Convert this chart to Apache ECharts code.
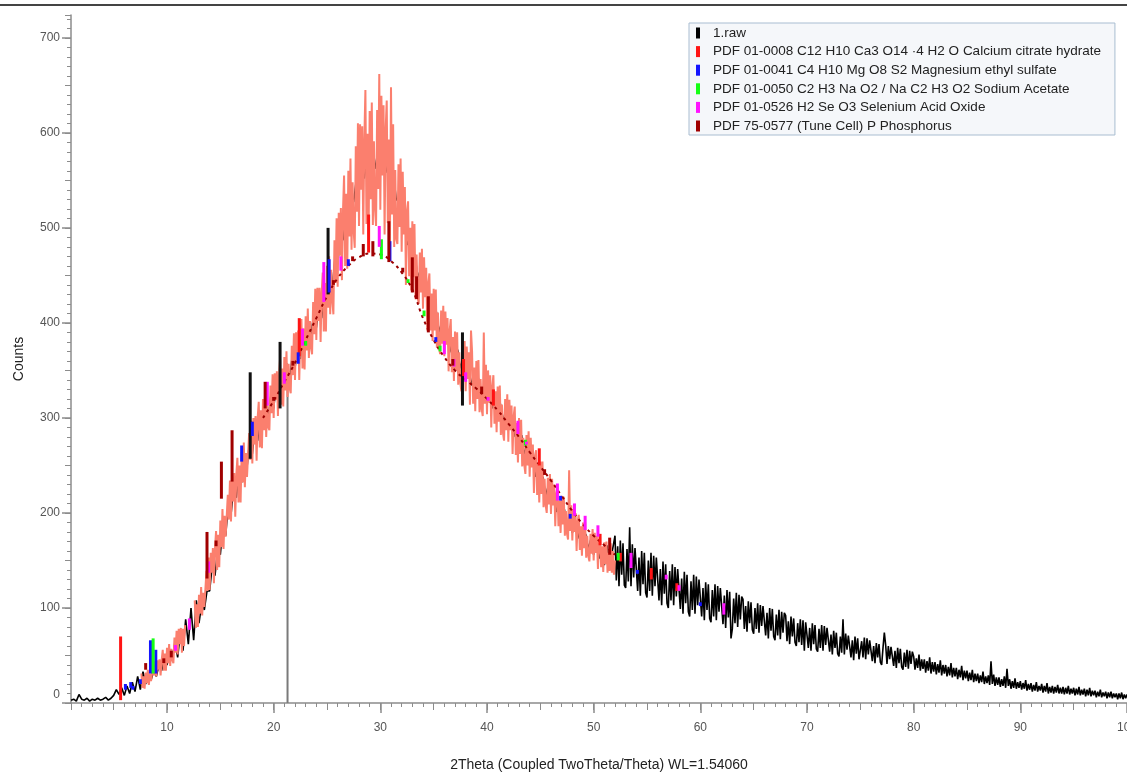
<!DOCTYPE html>
<html>
<head>
<meta charset="utf-8">
<script src="https://cdn.jsdelivr.net/npm/echarts@6/dist/echarts.min.js"></script>
<style>
  body { margin: 0; background: #fff; }
  #main { width: 1127px; height: 772px; }
</style>
</head>
<body>
<div id="main"></div>
<script>
// scan 1.raw, first part : 2theta from 1.0, step 0.25
var rawHeadStart = 1.0, rawHeadStep = 0.25;
var rawHead = [
  3, 4, 2, 9, 4, 3, 5, 2, 4, 3, 5, 3, 4, 6, 3, 5, 8, 14, 9, 16,
  8, 18, 10, 22, 12, 28, 14, 33, 20, 30, 24, 34, 28, 40, 34, 48, 40, 55, 48, 64,
  48, 74, 55, 88, 62, 100, 66, 108, 84, 104, 98, 118, 118, 146, 134, 162, 156, 188, 176, 210,
  198, 228, 216, 244, 232, 262, 248, 276, 262, 290, 276, 302, 288, 314, 300, 325, 310, 336, 322, 347,
  332, 357, 341, 366, 352, 377, 362, 388, 373, 399, 385, 410, 395, 420, 405, 432, 420, 448, 438, 468,
  462, 490, 487, 515, 510, 535, 527, 551, 542, 563, 552, 571, 558, 576, 562, 579, 564, 577, 558, 569,
  548, 555, 529, 532, 502, 508, 482, 489, 464, 472, 448, 455, 430, 439, 416, 425, 402, 412, 390, 401,
  380, 390, 369, 381, 360, 372, 352, 363, 342, 354, 334, 347, 328, 341, 322, 335, 316, 329, 310, 322,
  303, 315, 296, 308, 288, 300, 280, 292, 271, 282, 261, 272, 250, 260, 238, 249, 227, 238, 218, 229,
  210, 219, 201, 212, 193, 204, 186, 197, 179, 190, 173, 184, 167, 178, 162, 173, 156, 168, 152, 164,
  145, 166, 142, 160
];

// scan 1.raw, second part : 2theta from 52.0, step 0.125 (8 values per degree)
var rawTailStart = 52.0, rawTailStep = 0.125;
var rawTail = [
  176, 129, 165, 123, 171, 135, 168, 124,   121, 162, 128, 185, 123, 167, 132, 163,
  163, 118, 153, 113, 160, 125, 158, 116,   111, 150, 118, 158, 113, 155, 123, 153,
  151, 108, 141, 103, 149, 115, 146, 105,   100, 139, 108, 146, 103, 143, 112, 141,
  140, 99, 131, 94, 138, 105, 135, 96,      91, 128, 98, 135, 94, 133, 103, 130,
  129, 91, 121, 87, 127, 98, 125, 89,       85, 119, 91, 125, 87, 123, 96, 121,
  121, 83, 113, 79, 119, 90, 117, 68,       78, 110, 84, 116, 80, 114, 88, 112,
  109, 78, 102, 75, 107, 84, 106, 77,       73, 100, 78, 105, 74, 103, 81, 102,
  102, 71, 95, 68, 100, 76, 99, 70,         66, 93, 71, 98, 67, 96, 74, 95,
  92, 65, 86, 62, 91, 70, 89, 64,           60, 84, 64, 88, 61, 87, 55, 85,
  85, 58, 79, 55, 84, 62, 82, 57,           54, 78, 58, 82, 55, 81, 61, 79,
  77, 54, 72, 51, 76, 58, 74, 52,           49, 70, 53, 88, 51, 73, 56, 71,
  71, 48, 66, 45, 70, 52, 68, 46,           44, 65, 48, 69, 46, 68, 51, 66,
  64, 44, 60, 42, 63, 48, 62, 43,           40, 58, 74, 61, 41, 60, 46, 59,
  59, 39, 55, 37, 58, 42, 57, 38,           35, 53, 38, 56, 36, 55, 41, 54,
  49, 35, 47, 37, 51, 34, 46, 36,           46, 32, 44, 34, 48, 31, 43, 33,
  43, 30, 41, 32, 45, 29, 40, 31,           40, 28, 38, 29, 42, 27, 37, 28,
  37, 25, 35, 27, 39, 24, 34, 26,           34, 23, 32, 24, 35, 22, 31, 23,
  31, 21, 29, 22, 33, 20, 28, 21,           29, 19, 44, 20, 30, 18, 27, 19,
  27, 17, 25, 18, 28, 16, 36, 18,           25, 15, 23, 16, 26, 15, 22, 16,
  23, 14, 21, 15, 24, 13, 20, 14,           21, 12, 19, 13, 22, 12, 18, 13,
  20, 11, 18, 12, 21, 10, 17, 11,           18, 10, 17, 11, 19, 10, 16, 10,
  17, 9, 16, 10, 18, 9, 15, 10,             16, 8, 15, 9, 17, 8, 14, 9,
  15, 7, 14, 8, 16, 7, 13, 8,               13, 6, 12, 7, 14, 6, 11, 7,
  12, 5, 11, 6, 12, 5, 10, 6,               10, 4, 10, 5, 11, 4, 9, 5,
  9, 4, 8, 3, 7
];

// salmon overlay scan : 2theta from 7.6, step 0.1 ('-' = gap)
var bandStart = 7.6, bandStep = 0.1;
var bandCounts = [
  31, 16, 28, 15, 32, 21, 35, 19, 31, 23,
  22, 39, 29, 44, 28, 45, 35, 46, 29, 45,
  56, 34, 52, 34, 58, 42, 62, 39, 57, 45,
  42, 69, 53, 76, 51, 78, 62, 79, 53, 78,
  60, 82, '-', '-', '-', '-', '-', '-', '-', '-',
  108, 79, 104, 80, 114, 94, 122, 92, 116, 101,
  100, 139, 118, 153, 119, 158, 137, 163, 126, 163,
  181, 140, 177, 143, 192, 164, 204, 162, 197, 175,
  173, 219, 193, 234, 191, 237, 212, 242, 196, 240,
  258, 211, 250, 211, 264, 232, 274, 227, 263, 238,
  236, 284, 256, 297, 252, 300, 272, 302, 255, 300,
  317, 269, 308, 268, 320, 287, 328, 280, 316, 290,
  287, 334, 305, 346, 300, 347, 319, 349, 302, 346,
  362, 314, 352, 312, 364, 329, 370, 322, 357, 331,
  326, 376, 345, 389, 340, 390, 360, 392, 340, 387,
  404, 352, 394, 351, 407, 371, 415, 363, 402, 374,
  367, 422, 388, 436, 382, 437, 402, 437, 380, 432,
  453, 391, 442, 391, 460, 416, 470, 409, 456, 423,
  409, 487, 442, 510, 438, 516, 471, 521, 445, 518,
  555, 460, 536, 457, 560, 491, 573, 477, 548, 496,
  479, 586, 517, 610, 502, 609, 540, 607, 493, 593,
  645, 504, 599, 492, 623, 530, 632, 503, 591, 520,
  502, 624, 541, 662, 519, 639, 555, 629, 493, 604,
  634, 505, 593, 485, 648, 514, 609, 480, 561, 488,
  483, 567, 501, 573, 475, 559, 493, 543, 440, 518,
  528, 449, 500, 434, 507, 448, 504, 425, 472, 427,
  420, 474, 432, 478, 415, 469, 427, 458, 392, 442,
  452, 392, 431, 381, 436, 392, 435, 374, 411, 376,
  367, 413, 378, 418, 365, 412, 377, 405, 349, 392,
  404, 348, 385, 339, 391, 350, 390, 335, 369, 337,
  328, 375, 340, 381, 328, 375, 341, 369, 314, 392,
  370, 315, 353, 307, 360, 320, 361, 306, 341, 309,
  302, 390, 315, 356, 304, 350, 316, 345, 290, 333,
  345, 294, 328, 285, 333, 296, 334, 282, 314, 284,
  276, 320, 287, 325, 275, 319, 287, 313, 262, 302,
  312, 261, 295, 253, 300, 262, 298, 249, 279, 250,
  241, 282, 250, 286, 238, 279, 248, 272, 221, 260,
  266, 219, 251, 211, 254, 220, 254, 206, 236, 208,
  200, 237, 209, 241, 199, 236, 208, 230, 186, 220,
  227, 186, 213, 179, 218, 188, 217, 176, 202, 178,
  172, 245, 181, 208, 171, 204, 180, 200, 160, 191,
  198, 161, 186, 155, 190, 163, 190, 153, 176, 155,
  149, 178, 157, 183, 150, 179, 158, 176, 141, 169,
  175, 143, 165, 138, 169, 146, 170, 137, 158, 139,
  168, 137, 160, 135, 150
];

// dotted stick baseline : 2theta from 19, step 1
var baseStart = 19, baseStep = 1;
var baseCounts = [300, 318, 338, 358, 382, 405, 428, 447, 460, 469, 473, 472, 465, 453, 435, 405, 382,
  364, 350, 340, 331, 320, 308, 294, 280, 264, 249, 234, 218, 202, 188, 176, 166, 156];

// sticks : [2theta, from, to]
var calciumSticks = [[5.65, 3, 70], [22.4, 365, 405], [28.9, 474, 514], [37.8, 344, 362], [40.6, 313, 330],
  [44.9, 250, 268], [50.6, 166, 178], [52.5, 149, 158], [55.4, 130, 142], [57.8, 118, 126]];
var magnesiumSticks = [[6.1, 14, 20], [6.6, 16, 22], [6.8, 14, 18], [7.5, 20, 25], [8.45, 31, 66], [8.95, 31, 56],
  [17.0, 254, 271], [18.0, 281, 296], [22.3, 357, 369], [25.2, 432, 467], [27.0, 460, 467], [30.9, 465, 486],
  [35.2, 380, 385], [46.9, 213, 218], [47.8, 194, 199], [54.1, 136, 140], [60.0, 102, 106]];
var sodiumSticks = [[8.7, 31, 68], [23.0, 376, 381], [30.1, 467, 488], [32.6, 442, 446], [34.1, 407, 413],
  [35.6, 370, 376], [43.6, 271, 277], [52.3, 150, 158]];
var seleniumSticks = [[10.8, 55, 61], [12.1, 77, 89], [13.9, 137, 149], [19.4, 313, 338], [21.0, 336, 348],
  [22.7, 376, 394], [24.7, 422, 464], [26.3, 455, 470], [29.9, 480, 502], [36.0, 367, 381], [36.9, 354, 362],
  [38.0, 338, 348], [40.1, 318, 322], [42.9, 283, 297], [43.7, 272, 275], [46.6, 213, 231], [48.2, 197, 210],
  [49.2, 182, 197], [50.4, 175, 187], [53.5, 142, 158], [56.8, 130, 135], [58.0, 118, 124], [62.2, 93, 105]];
var phosphorusSticks = [[8.0, 35, 42], [9.7, 42, 47], [10.4, 48, 55], [13.75, 131, 180], [14.6, 165, 171],
  [15.1, 215, 254], [16.1, 233, 287], [19.2, 310, 338], [20.0, 318, 322], [21.8, 355, 360], [25.6, 440, 445],
  [27.4, 465, 470], [28.4, 470, 483], [29.3, 470, 486], [30.8, 464, 507], [32.1, 453, 458], [33.0, 432, 469],
  [33.4, 425, 449], [34.5, 390, 428], [36.8, 355, 362], [39.5, 325, 333], [45.4, 240, 246], [51.5, 156, 174]];
var rawSticks = [[17.8, 257, 348], [20.6, 310, 380], [25.1, 430, 500], [37.7, 313, 390]];
var cursorLine = [[21.3, 0, 331]];

var legendNames = [
  '1.raw',
  'PDF 01-0008 C12 H10 Ca3 O14 \u00b74 H2 O Calcium citrate hydrate',
  'PDF 01-0041 C4 H10 Mg O8 S2 Magnesium ethyl sulfate',
  'PDF 01-0050 C2 H3 Na O2 / Na C2 H3 O2 Sodium Acetate',
  'PDF 01-0526 H2 Se O3 Selenium Acid Oxide',
  'PDF 75-0577 (Tune Cell) P Phosphorus'
];

function toXY(start, step, list) {
  var out = [];
  for (var i = 0; i < list.length; i++) {
    out.push([+(start + i * step).toFixed(3), list[i]]);
  }
  return out;
}

function stickItem(params, api) {
  var top = api.coord([api.value(0), api.value(2)]);
  var bot = api.coord([api.value(0), api.value(1)]);
  var w = params.seriesName === 'cursor' ? 2 : 3;
  return {
    type: 'rect',
    shape: { x: top[0] - w / 2, y: top[1], width: w, height: bot[1] - top[1] },
    style: { fill: api.visual('color'), opacity: api.visual('opacity') }
  };
}

function stickSeries(name, data, color, z, opacity) {
  return {
    name: name,
    type: 'custom',
    renderItem: stickItem,
    encode: { x: 0, y: [1, 2] },
    itemStyle: { color: color, opacity: opacity == null ? 1 : opacity },
    data: data,
    z: z,
    silent: true
  };
}

// tick-only helper axes (minor / middle ticks)
function tickAxis(pos, min, max, step, len, nice) {
  var ax = {
    type: 'value', position: pos, min: min, max: max,
    axisLine: { show: false }, axisLabel: { show: false }, splitLine: { show: false },
    axisTick: { length: len, lineStyle: { color: axisGray } }
  };
  if (nice) { ax.splitNumber = Math.round((max - min) / step); ax.minInterval = step; ax.maxInterval = step; }
  else { ax.interval = step; }
  return ax;
}

var font = 'Liberation Sans, Arial, sans-serif';
var axisGray = '#8c8c8c';
var xMin = 1, xMax = 100, yMin = 0, yMax = 724;

var rawData = toXY(rawHeadStart, rawHeadStep, rawHead).concat(toXY(rawTailStart, rawTailStep, rawTail));

var myChart = echarts.init(document.getElementById('main'));
var option = {
  animation: false,
  backgroundColor: '#fff',
  textStyle: { fontFamily: font },
  graphic: [{
    type: 'rect',
    shape: { x: 0, y: 4, width: 1127, height: 2 },
    style: { fill: '#444' }
  }],
  legend: {
    orient: 'vertical',
    left: 689,
    top: 23,
    padding: [3, 14, 2, 7],
    itemGap: 4.6,
    itemWidth: 4,
    itemHeight: 11,
    icon: 'rect',
    selectedMode: false,
    backgroundColor: '#f5f7fa',
    borderColor: '#a9bdd1',
    borderWidth: 1,
    textStyle: { fontFamily: font, fontSize: 13.5, color: '#222', padding: [0, 0, 0, 8] },
    data: legendNames
  },
  grid: { left: 71, right: 0, top: 15, bottom: 69, containLabel: false, outerBoundsMode: 'none' },
  xAxis: [{
    type: 'value',
    position: 'bottom',
    min: xMin, max: xMax,
    splitNumber: 10, minInterval: 10, maxInterval: 10,
    name: '2Theta (Coupled TwoTheta/Theta) WL=1.54060',
    nameLocation: 'middle',
    nameGap: 55,
    nameTextStyle: { fontFamily: font, fontSize: 14, color: '#222' },
    axisLine: { lineStyle: { color: axisGray, width: 1.5 } },
    axisTick: { length: 10, lineStyle: { color: axisGray, width: 1.5 } },
    axisLabel: { margin: 19, color: '#555', fontSize: 12, fontFamily: font, showMinLabel: false },
    splitLine: { show: false }
  },
    tickAxis('bottom', xMin, xMax, 1, 4, false),
    tickAxis('bottom', xMin, xMax, 5, 7, true)
  ],
  yAxis: [{
    type: 'value',
    position: 'left',
    min: yMin, max: yMax, interval: 100,
    name: 'Counts',
    nameLocation: 'middle',
    nameGap: 45,
    nameTextStyle: { fontFamily: font, fontSize: 14, color: '#222' },
    axisLine: { lineStyle: { color: axisGray, width: 1.5 } },
    axisTick: { length: 9, lineStyle: { color: axisGray, width: 1.5 } },
    axisLabel: {
      margin: 11, color: '#555', fontSize: 12, fontFamily: font, showMaxLabel: false,
      formatter: function (v) { return v === 0 ? '{z|0}' : v; },
      rich: { z: { padding: [0, 0, 16, 0], color: '#555', fontSize: 12, fontFamily: font } }
    },
    splitLine: { show: false }
  },
    tickAxis('left', yMin, yMax, 10, 4, false),
    tickAxis('left', yMin, yMax, 50, 6, false)
  ],
  series: [
    stickSeries('cursor', cursorLine, '#7a7a7a', 1),
    {
      name: '1.raw',
      type: 'line',
      data: rawData,
      showSymbol: false,
      sampling: null,
      color: '#000',
      lineStyle: { color: '#000', width: 1.6 },
      z: 2,
      silent: true
    },
    {
      name: 'overlay',
      type: 'line',
      data: toXY(bandStart, bandStep, bandCounts),
      showSymbol: false,
      connectNulls: false,
      lineStyle: { color: '#fb7f6e', width: 2 },
      z: 3,
      silent: true
    },
    {
      name: 'baseline',
      type: 'line',
      data: toXY(baseStart, baseStep, baseCounts),
      showSymbol: false,
      smooth: true,
      lineStyle: { color: '#9a0000', width: 2, type: [3, 4] },
      z: 4,
      silent: true
    },
    stickSeries('raw sticks', rawSticks, '#111', 5, 0.85),
    stickSeries(legendNames[1], calciumSticks, '#ff1414', 6),
    stickSeries(legendNames[2], magnesiumSticks, '#1414ff', 6),
    stickSeries(legendNames[3], sodiumSticks, '#14ff14', 6),
    stickSeries(legendNames[4], seleniumSticks, '#ff14ff', 6),
    stickSeries(legendNames[5], phosphorusSticks, '#a00000', 6)
  ]
};
myChart.setOption(option);
</script>
</body>
</html>
